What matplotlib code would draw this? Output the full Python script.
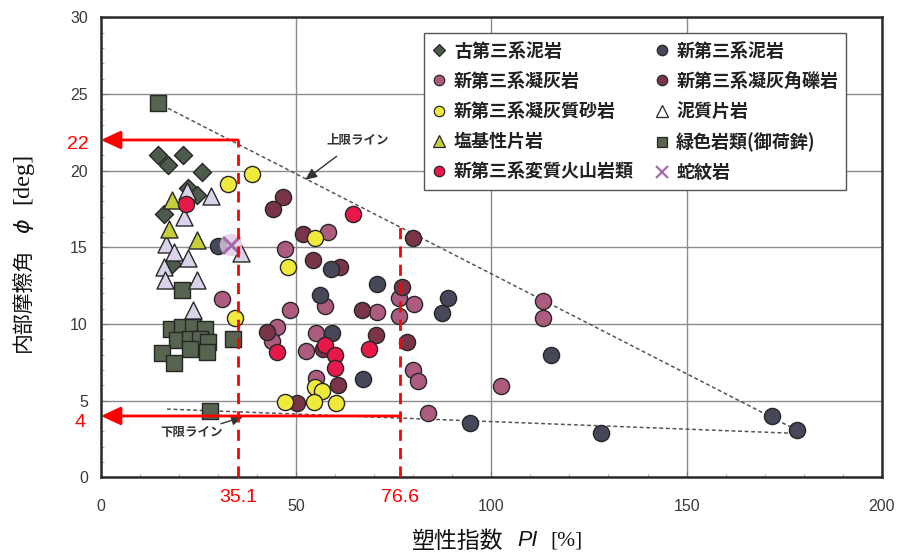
import matplotlib
matplotlib.use("Agg")
import matplotlib.pyplot as plt
from matplotlib.lines import Line2D
from matplotlib.ticker import MultipleLocator
from matplotlib.transforms import IdentityTransform, blended_transform_factory

plt.rcParams['font.family'] = ['Noto Sans CJK JP', 'DejaVu Sans']

# ---- data: plasticity index PI [%] vs internal friction angle phi [deg] ----
paleo_mud_x = [14.7, 17.2, 21.1, 25.8, 22.4, 24.5, 16.2, 18.1]
paleo_mud_y = [21.0, 20.4, 21.0, 19.9, 18.9, 18.4, 17.2, 13.9]

neo_mud_x = [30.0, 58.8, 70.6, 56.1, 59.1, 67.0, 87.3, 89.0, 94.5, 115.2, 128.2, 172.0, 178.2]
neo_mud_y = [15.1, 13.6, 12.6, 11.9, 9.4, 6.4, 10.7, 11.7, 3.56, 7.97, 2.87, 4.0, 3.08]

neo_tuff_x = [58.2, 47.1, 57.4, 48.4, 70.6, 45.2, 43.9, 55.1, 52.5, 55.1, 83.8, 76.4,
              79.8, 81.3, 76.4, 80.2, 113.3, 113.1, 102.4, 30.9]
neo_tuff_y = [16.0, 14.9, 11.2, 10.9, 10.75, 9.8, 8.9, 9.4, 8.25, 6.45, 4.2, 10.5,
              7.0, 6.3, 11.7, 11.3, 11.5, 10.4, 5.95, 11.6]

neo_breccia_x = [46.5, 44.1, 51.8, 54.4, 61.2, 66.8, 42.6, 70.4, 56.9, 60.8, 50.3, 78.3, 79.8, 77.0]
neo_breccia_y = [18.3, 17.5, 15.9, 14.2, 13.7, 10.9, 9.5, 9.3, 8.4, 6.0, 4.82, 8.8, 15.6, 12.4]

neo_sand_x = [32.6, 38.6, 34.3, 54.8, 48.0, 54.8, 56.5, 47.1, 54.6, 60.2]
neo_sand_y = [19.15, 19.76, 10.4, 15.6, 13.7, 5.86, 5.64, 4.89, 4.89, 4.82]

pelitic_x = [21.9, 28.2, 21.3, 16.6, 18.6, 22.4, 16.2, 16.4, 24.5, 23.6, 35.8]
pelitic_y = [18.7, 18.35, 17.0, 15.2, 14.7, 14.3, 13.7, 12.9, 12.9, 10.9, 14.6]

basic_x = [18.1, 17.3, 24.5]
basic_y = [18.1, 16.2, 15.45]

green_x = [14.7, 20.7, 33.9, 17.8, 20.7, 23.6, 26.6, 19.4, 22.8, 25.4, 27.5, 22.8, 27.1, 15.5, 18.7, 28.0]
green_y = [24.4, 12.2, 9.05, 9.64, 9.77, 9.81, 9.7, 8.94, 9.05, 9.05, 8.83, 8.4, 8.18, 8.08, 7.43, 4.34]

altered_x = [21.8, 64.5, 45.2, 57.4, 59.9, 59.9, 68.7]
altered_y = [17.8, 17.15, 8.18, 8.62, 7.98, 7.1, 8.34]

serp_x = [33.3]
serp_y = [15.15]

# limit lines
upper_line_x = [17.2, 178.2]
upper_line_y = [24.06, 3.08]
lower_line_x = [16.9, 176.5]
lower_line_y = [4.45, 2.88]

# read-off values
pi_values = [35.1, 76.6]
phi_values = [22, 4]

fig = plt.figure(figsize=(8.98, 5.55), dpi=100)
ax = fig.add_axes([0.1125, 0.1400, 0.8694, 0.8288])
ax.set_xlim(0, 200)
ax.set_ylim(0, 30)

ax.xaxis.set_major_locator(MultipleLocator(50))
ax.yaxis.set_major_locator(MultipleLocator(5))
ax.xaxis.set_minor_locator(MultipleLocator(10))
ax.yaxis.set_minor_locator(MultipleLocator(1))
ax.grid(True, which='major', color='#8c8c8c', lw=1.0, zorder=0)
ax.set_axisbelow(True)
for sp in ax.spines.values():
    sp.set_linewidth(1.8)
    sp.set_color('#2a2a2a')
ax.tick_params(which='major', direction='in', length=4, color='#777777')
ax.tick_params(which='minor', direction='in', length=2.5, color='#999999')
ax.tick_params(axis='x', which='major', pad=15.5)
ax.tick_params(axis='y', which='major', pad=9.5)
for lab in ax.get_xticklabels() + ax.get_yticklabels():
    lab.set_family('Liberation Sans')
    lab.set_fontsize(11.5)
    lab.set_color('#3a3a3a')

# limit lines
ax.plot(upper_line_x, upper_line_y, ls=(0, (2.5, 1.8)), color='#555555', lw=1.1, zorder=2)
ax.plot(lower_line_x, lower_line_y, ls=(0, (2.5, 1.8)), color='#555555', lw=1.1, zorder=2)

edge = '#262626'
kw = dict(edgecolors=edge, linewidths=1.0, zorder=3)
ax.scatter(green_x, green_y, marker='s', s=120, c='#57644f', **kw)
ax.scatter(paleo_mud_x, paleo_mud_y, marker='D', s=85, c='#4d5b4d', **kw)
ax.scatter(pelitic_x, pelitic_y, marker='^', s=150, c='#dad3ea', **kw)
ax.scatter(basic_x, basic_y, marker='^', s=150, c='#c4cf3a', **kw)
ax.scatter(neo_tuff_x, neo_tuff_y, marker='o', s=135, c='#ad5c80', **kw)
ax.scatter(neo_breccia_x, neo_breccia_y, marker='o', s=135, c='#7a3448', **kw)
ax.scatter(neo_mud_x, neo_mud_y, marker='o', s=135, c='#47475a', **kw)
ax.scatter(neo_sand_x, neo_sand_y, marker='o', s=135, c='#f0ea3c', **kw)
ax.scatter(altered_x, altered_y, marker='o', s=135, c='#e8194a', **kw)
ax.scatter(serp_x, serp_y, marker='o', s=260, c='#e2c8e4', edgecolors='none', alpha=0.8, zorder=3)
ax.scatter(serp_x, serp_y, marker='x', s=150, c='#a46aae', linewidths=2.2, zorder=4)

# legend
def h(marker, face, ms=7.5, mew=0.9, ec=edge):
    return Line2D([], [], ls='none', marker=marker, markersize=ms, markerfacecolor=face,
                  markeredgecolor=ec, markeredgewidth=mew)

handles = [h('D', '#4d5b4d', 6), h('o', '#ad5c80'), h('o', '#f0ea3c'), h('^', '#c4cf3a', 8),
           h('o', '#e8194a'),
           h('o', '#47475a'), h('o', '#7a3448'), h('^', '#ffffff', 8), h('s', '#57644f', 7),
           h('x', '#a46aae', 8, 1.6, '#a46aae')]
labels = ['古第三系泥岩', '新第三系凝灰岩', '新第三系凝灰質砂岩', '塩基性片岩', '新第三系変質火山岩類',
          '新第三系泥岩', '新第三系凝灰角礫岩', '泥質片岩', '緑色岩類(御荷鉾)', '蛇紋岩']
leg = ax.legend(handles, labels, ncol=2, loc='upper left', bbox_to_anchor=(0.4137, 0.965),
                borderaxespad=0, prop={'weight': 'bold', 'size': 13},
                frameon=True, fancybox=False, edgecolor='#555555', framealpha=1,
                handlelength=0.8, handletextpad=0.4, columnspacing=1.15,
                labelspacing=0.62, borderpad=0.45)
leg.get_frame().set_linewidth(1.0)
for t in leg.get_texts():
    t.set_color('#222222')
leg.set_zorder(5)

# limit-line callouts
ax.annotate('上限ライン', xy=(52.3, 19.4), xytext=(65.8, 21.97), ha='center', va='center',
            fontsize=9, fontweight='bold', color='#333333',
            arrowprops=dict(arrowstyle='-|>,head_length=0.5,head_width=0.22', color='#333333',
                            lw=1.0, shrinkA=8, shrinkB=0, mutation_scale=14), zorder=4)
ax.annotate('下限ライン', xy=(36.4, 3.95), xytext=(23.2, 2.89), ha='center', va='center',
            fontsize=9, fontweight='bold', color='#333333',
            arrowprops=dict(arrowstyle='-|>,head_length=0.5,head_width=0.22', color='#333333',
                            lw=1.0, shrinkA=30, shrinkB=0, mutation_scale=14), zorder=4)

# red read-off guides
red = '#ff0000'
for xv, yv in zip(pi_values, phi_values):
    ax.annotate('', xy=(0, yv), xytext=(xv, yv),
                arrowprops=dict(arrowstyle='-|>,head_length=0.6,head_width=0.28', color=red,
                                lw=2.0, shrinkA=0, shrinkB=0, mutation_scale=20),
                annotation_clip=False, zorder=6)
top_of_guide = [phi_values[0],
                upper_line_y[0] + (upper_line_y[1] - upper_line_y[0]) *
                (pi_values[1] - upper_line_x[0]) / (upper_line_x[1] - upper_line_x[0])]
for xv, yt in zip(pi_values, top_of_guide):
    ax.plot([xv, xv], [0, yt], color=red, lw=2.0, ls=(0, (4, 2.6)), zorder=6, clip_on=False)

tx = blended_transform_factory(ax.transData, ax.transAxes)
for xv in pi_values:
    ax.text(xv, -0.043, f'{xv:g}', transform=tx, ha='center', va='center', color=red,
            fontsize=14, family='Liberation Sans')
ty = blended_transform_factory(ax.transAxes, ax.transData)
ax.text(-0.0154, 21.72, '22', transform=ty, ha='right', va='center', color=red,
        fontsize=14, family='Liberation Sans')
ax.text(-0.0205, 3.57, '4', transform=ty, ha='right', va='center', color=red,
        fontsize=14, family='Liberation Sans')

# axis titles assembled from runs with different styles
renderer = fig.canvas.get_renderer()
H = fig.bbox.height


def run(pieces, x, y, vertical=False):
    pos = y if vertical else x
    for s, props, gap in pieces:
        if vertical:
            t = fig.text(x, pos, s, rotation=90, ha='center', va='bottom',
                         transform=IdentityTransform(), **props)
            bb = t.get_window_extent(renderer)
            pos = bb.y1 + gap
        else:
            t = fig.text(pos, y, s, ha='left', va='center',
                         transform=IdentityTransform(), **props)
            bb = t.get_window_extent(renderer)
            pos = bb.x1 + gap


cjk = dict(family=['Noto Sans CJK JP', 'DejaVu Sans'], color='#111111')
run([('内部摩擦角', dict(fontsize=15, **cjk), 15),
     ('ϕ', dict(fontsize=16, family='DejaVu Sans', style='italic', color='#111111'), 14),
     ('[deg]', dict(fontsize=17.5, family='Liberation Serif', color='#111111'), 0)],
    23, H - 352, vertical=True)
run([('塑性指数', dict(fontsize=16.5, **cjk), 14),
     ('PI', dict(fontsize=15.5, family='Liberation Sans', style='italic', color='#111111'), 12),
     ('[%]', dict(fontsize=15.5, family='Liberation Serif', color='#111111'), 0)],
    412, H - 541)

fig.savefig('out.png', dpi=100)
